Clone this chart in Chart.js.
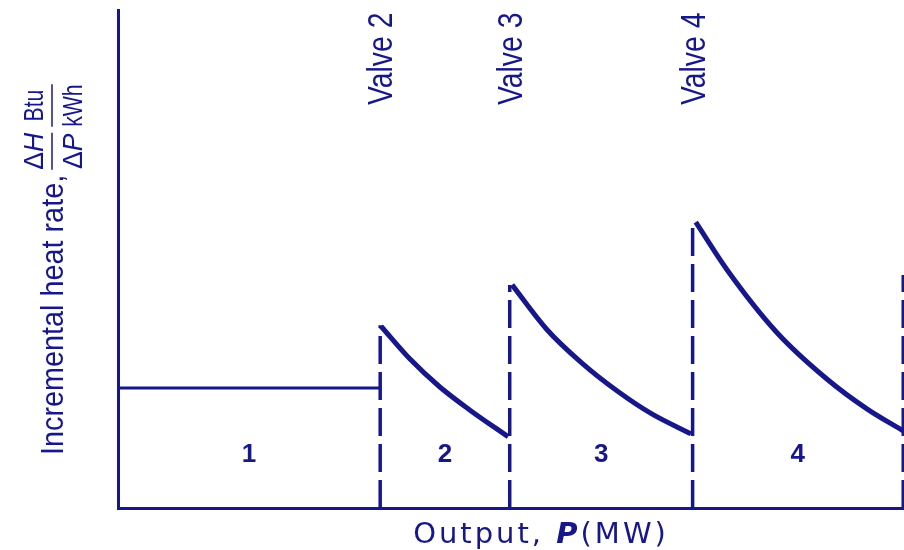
<!DOCTYPE html>
<html>
<head>
<meta charset="utf-8">
<script src="https://cdn.jsdelivr.net/npm/chart.js@4"></script>
<style>
html, body { margin: 0; padding: 0; background: #fff; }
#wrap { width: 904px; height: 550px; }
</style>
</head>
<body>
<div id="wrap"><canvas id="heatChart" width="904" height="550"></canvas></div>
<script>
const navy = '#17178c';

// output (relative, 0-100) vs incremental heat rate (relative, 0-100)
const valveLabels = ['Valve 2', 'Valve 3', 'Valve 4'];
const segmentLabels = ['1', '2', '3', '4'];
const valveOutput = [33.4, 49.9, 73.2];
const valvePeak = [36.7, 44.8, 57.8];
const maxOutput = 100;
const edgeHeight = 46.8;

const range1X = [0, 33.4];
const range1Y = [24.1, 24.1];
const range2X = [33.5, 37.2, 41.0, 44.8, 49.7];
const range2Y = [36.5, 29.9, 24.3, 19.7, 14.3];
const range3X = [50.2, 54.6, 59.1, 63.6, 68.0, 73.0];
const range3Y = [44.8, 35.9, 29.1, 23.5, 18.9, 14.9];
const range4X = [73.6, 77.6, 83.9, 90.3, 95.4, 100];
const range4Y = [57.4, 47.8, 35.3, 25.9, 19.9, 15.5];

function pts(xs, ys) {
    return xs.map((x, i) => ({ x: x, y: ys[i] }));
}

const curveStyle = {
    borderColor: navy,
    borderWidth: 5,
    pointRadius: 0,
    fill: false,
    cubicInterpolationMode: 'monotone',
    clip: false
};

const datasets = [
    { data: pts(range1X, range1Y), borderColor: navy, borderWidth: 3, pointRadius: 0, clip: false },
    Object.assign({ data: pts(range2X, range2Y) }, curveStyle),
    Object.assign({ data: pts(range3X, range3Y) }, curveStyle),
    Object.assign({ data: pts(range4X, range4Y) }, curveStyle)
];

// dashed valve-point lines
valveOutput.forEach((v, i) => {
    datasets.push({
        data: [{ x: v, y: 0 }, { x: v, y: valvePeak[i] }],
        borderColor: navy,
        borderWidth: 3.5,
        borderDash: [28, 8],
        pointRadius: 0,
        clip: false
    });
});
datasets.push({
    data: [{ x: maxOutput, y: 0 }, { x: maxOutput, y: edgeHeight }],
    borderColor: navy,
    borderWidth: 3,
    borderDash: [28, 8],
    pointRadius: 0,
    clip: false
});

const sans = '"Liberation Sans", Arial, sans-serif';

// draws condensed text (squeezed along the baseline)
function narrowText(ctx, text, x, y, squeeze) {
    ctx.save();
    ctx.translate(x, y);
    ctx.scale(squeeze, 1);
    ctx.fillText(text, 0, 0);
    ctx.restore();
    return ctx.measureText(text).width * squeeze;
}

const figureText = {
    id: 'figureText',
    afterDraw(chart) {
        const ctx = chart.ctx;
        const xs = chart.scales.x;
        const area = chart.chartArea;
        ctx.save();
        ctx.fillStyle = navy;
        ctx.strokeStyle = navy;

        // valve labels
        ctx.font = '35px ' + sans;
        valveLabels.forEach((t, i) => {
            const px = xs.getPixelForValue(valveOutput[i]);
            ctx.save();
            ctx.translate(px + 12, 105);
            ctx.rotate(-Math.PI / 2);
            narrowText(ctx, t, 0, 0, 0.81);
            ctx.restore();
        });

        // range numbers
        const bounds = [0].concat(valveOutput, [maxOutput]);
        ctx.font = 'bold 26px ' + sans;
        ctx.textAlign = 'center';
        ctx.textBaseline = 'alphabetic';
        segmentLabels.forEach((t, i) => {
            const mid = (bounds[i] + bounds[i + 1]) / 2;
            ctx.fillText(t, xs.getPixelForValue(mid), area.bottom - 46);
        });

        // x axis title
        ctx.textAlign = 'left';
        ctx.letterSpacing = '3px';
        const partA = 'Output, ', partB = 'P', partC = '(MW)';
        const fReg = '29px "DejaVu Sans", sans-serif';
        const fBI = 'italic bold 29px "DejaVu Sans", sans-serif';
        ctx.font = fReg;
        const wA = ctx.measureText(partA).width;
        const wC = ctx.measureText(partC).width;
        ctx.font = fBI;
        const wB = ctx.measureText(partB).width;
        let tx = 541 - (wA + wB + wC) / 2;
        const ty = 543;
        ctx.font = fReg; ctx.fillText(partA, tx, ty); tx += wA;
        ctx.font = fBI; ctx.fillText(partB, tx, ty); tx += wB;
        ctx.font = fReg; ctx.fillText(partC, tx, ty);
        ctx.letterSpacing = '0px';

        // y axis title, rotated
        ctx.save();
        ctx.translate(63, 455);
        ctx.rotate(-Math.PI / 2);
        ctx.font = '32px ' + sans;
        let u = narrowText(ctx, 'Incremental heat rate,', 0, 0, 0.9) + 5;
        const small = '28px ' + sans;
        const smallIt = 'italic 28px ' + sans;
        function frac(numA, numB, denA, denB, sq) {
            ctx.font = small;
            const nA = ctx.measureText(numA).width * sq, dA = ctx.measureText(denA).width * sq;
            ctx.font = smallIt;
            const nB = ctx.measureText(numB).width * sq, dB = ctx.measureText(denB).width * sq;
            const w = Math.max(nA + nB, dA + dB);
            let s = u + (w - nA - nB) / 2;
            ctx.font = small; narrowText(ctx, numA, s, -20, sq);
            ctx.font = smallIt; narrowText(ctx, numB, s + nA, -20, sq);
            s = u + (w - dA - dB) / 2;
            ctx.font = small; narrowText(ctx, denA, s, 19, sq);
            ctx.font = smallIt; narrowText(ctx, denB, s + dA, 19, sq);
            ctx.lineWidth = 1.5;
            ctx.beginPath();
            ctx.moveTo(u, -11);
            ctx.lineTo(u + w, -11);
            ctx.stroke();
            u += w + 6;
        }
        frac('\u0394', 'H', '\u0394', 'P', 0.95);
        frac('Btu', '', 'kWh', '', 0.76);
        ctx.restore();

        ctx.restore();
    }
};

const ctx = document.getElementById('heatChart').getContext('2d');
const heatChart = new Chart(ctx, {
    type: 'line',
    data: { datasets: datasets },
    options: {
        responsive: false,
        animation: false,
        layout: { padding: { left: 118, top: 10, right: 1, bottom: 42 } },
        plugins: { legend: { display: false }, tooltip: { enabled: false } },
        scales: {
            x: {
                type: 'linear',
                min: 0,
                max: maxOutput,
                ticks: { display: false },
                grid: { display: false, drawTicks: false },
                border: { display: true, color: navy, width: 3 }
            },
            y: {
                min: 0,
                max: 100,
                ticks: { display: false },
                grid: { display: false, drawTicks: false },
                border: { display: true, color: navy, width: 3 }
            }
        }
    },
    plugins: [figureText]
});
</script>
</body>
</html>
